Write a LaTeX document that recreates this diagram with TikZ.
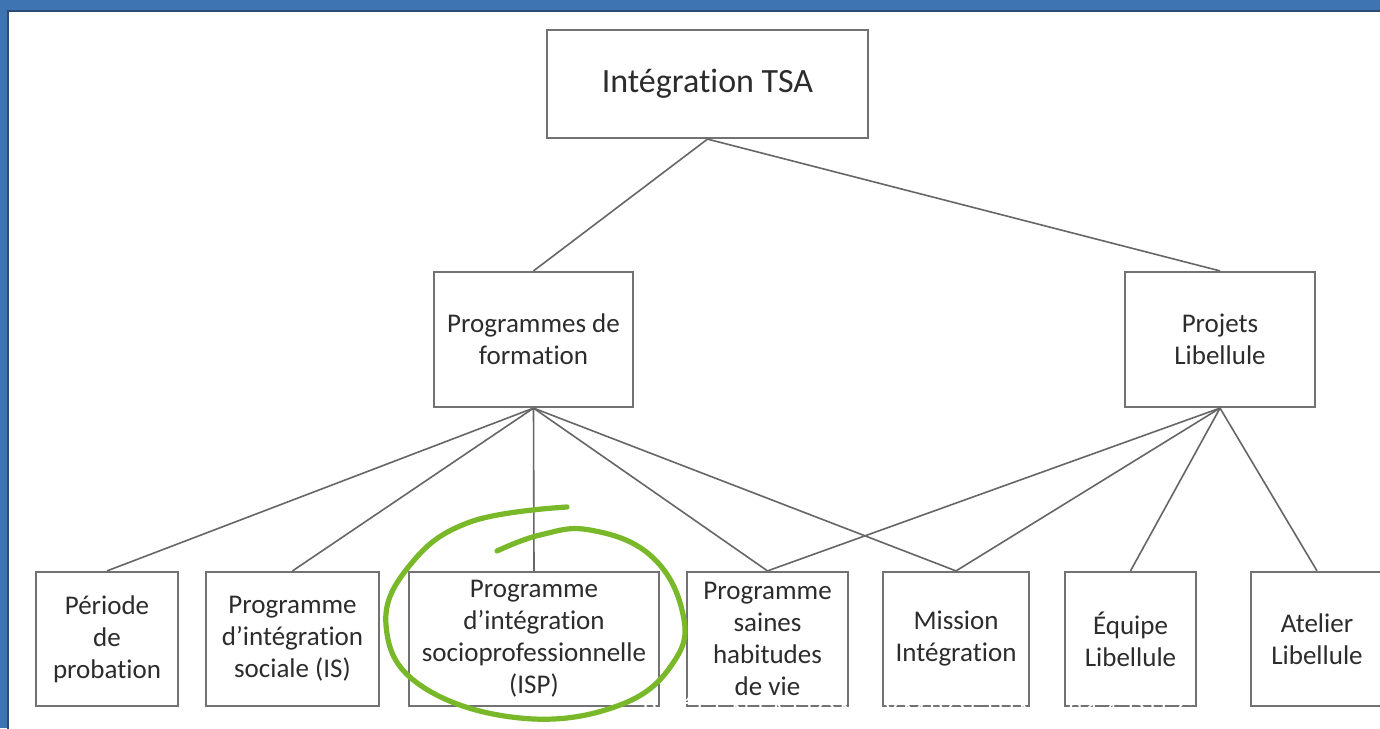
\documentclass[tikz,border=0pt]{standalone}
\usepackage{fontspec}
\setmainfont[Ligatures=NoCommon]{Carlito}
\newfontfamily\wfont[LetterSpace=17]{Lato}
\definecolor{frameblue}{HTML}{3F74B2}
\definecolor{frameedge}{HTML}{2B4B72}
\definecolor{boxgray}{HTML}{727272}
\definecolor{linegray}{HTML}{666666}
\definecolor{txtgray}{HTML}{2C2C2C}
\definecolor{hlgreen}{HTML}{79B829}
\tikzset{
  box/.style={draw=boxgray, line width=1.1pt, fill=white, align=center, inner sep=0pt,
    text=txtgray, font=\fontsize{13.5}{16}\selectfont},
  conn/.style={draw=linegray, line width=0.8pt},
  circ/.style={draw=hlgreen, line width=2.6pt, line cap=round, line join=round},
}
\begin{document}
\begin{tikzpicture}[x=0.5pt,y=-0.5pt]
\useasboundingbox (0,0) rectangle (1380,728);
\clip (0,0) rectangle (1380,728);
\fill[frameblue] (0,0) rectangle (1380,728);
\fill[white] (8,11) rectangle (1380,728);
\draw[frameedge, line width=0.8pt] (8,740) -- (8,11) -- (1390,11);

\node[box, minimum width=160.5pt, minimum height=54pt, font=\fontsize{17}{20}\selectfont] (tsa) at (707.5,84) {Intégration TSA};
\node[box, minimum width=99.5pt, minimum height=67.5pt] (pf) at (533.5,339.5) {Programmes de\\formation};
\node[box, minimum width=95pt, minimum height=67.5pt] (pl) at (1220,339.5) {Projets\\Libellule};

\node[box, minimum width=71pt, minimum height=67pt] (per) at (107,639) {Période\\de\\probation};
\node[box, minimum width=86.5pt, minimum height=67pt] (is) at (292.5,639) {Programme\\d’intégration\\sociale (IS)};
\node[box, minimum width=125pt, minimum height=67pt] (isp) at (534,639) {Programme\\d’intégration\\socioprofessionnelle\\(ISP)};
\node[box, minimum width=80.5pt, minimum height=67pt] (sai) at (767.5,639) {Programme\\saines\\habitudes\\de vie};
\node[box, minimum width=73pt, minimum height=67pt] (mis) at (956,639) {Mission\\Intégration};
\node[box, minimum width=65.5pt, minimum height=67pt] (equ) at (1130.5,639) {Équipe\\Libellule};
\node[box, minimum width=66pt, minimum height=67pt] (ate) at (1317,639) {Atelier\\Libellule};

\draw[conn] (tsa.south) -- (pf.north);
\draw[conn] (tsa.south) -- (pl.north);
\draw[conn] (pf.south) -- (per.north);
\draw[conn] (pf.south) -- (is.north);
\draw[conn] (pf.south) -- (isp.north);
\draw[conn] (pf.south) -- (sai.north);
\draw[conn] (pf.south) -- (mis.north);
\draw[conn] (pl.south) -- (sai.north);
\draw[conn] (pl.south) -- (mis.north);
\draw[conn] (pl.south) -- (equ.north);
\draw[conn] (pl.south) -- (ate.north);

\draw[circ] plot[smooth, tension=0.7] coordinates {(567,507) (470,522) (410,565) (386,625) (420,685) (520,718) (620,705) (675,660) (682,610) (650,555) (590,530) (540,535) (497,551)};

\node[anchor=base west, inner sep=0pt, text=white, font=\wfont\fontsize{11.8}{12}\selectfont] (wm) at (642,719) {PRÉSENTATION SYMPOSIUM 2014 DU C};
\end{tikzpicture}
\end{document}
